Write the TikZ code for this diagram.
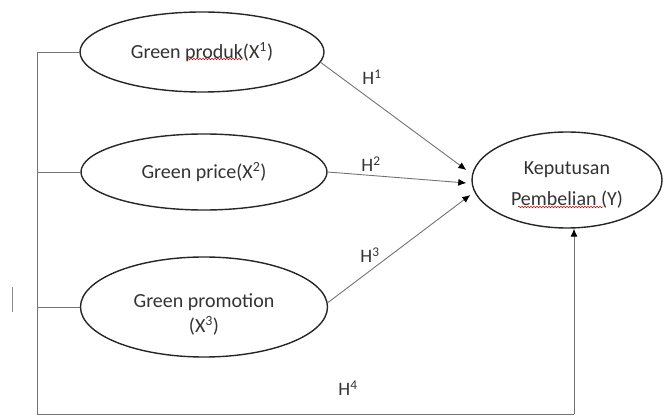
\documentclass[tikz,border=0pt]{standalone}
\usepackage{fontspec}
\setmainfont{Carlito}
\usetikzlibrary{arrows.meta,calc,decorations.pathmorphing,shapes.geometric}
\tikzset{
  var/.style={draw=black!85, line width=1.4pt, ellipse, inner sep=0pt, font=\fontsize{20}{25}\selectfont, align=center, text=black!80},
  conn/.style={draw=black!55, line width=0.9pt},
  arr/.style={conn, -{Latex[length=8pt,width=7pt,color=black]}},
  hlab/.style={font=\fontsize{19}{20}\selectfont, text=black!80, inner sep=0pt},
  spell/.style={draw=red!80!black, line width=0.5pt, decorate, decoration={snake, amplitude=0.8pt, segment length=3pt}}
}
\begin{document}
\begin{tikzpicture}[x=1pt,y=-1pt]
\useasboundingbox (0,0) rectangle (670,417);
\node[var, minimum width=244pt, minimum height=80pt] (e1) at (202,52) {Green produk(X\textsuperscript{1})};
\node[var, minimum width=246pt, minimum height=76pt] (e2) at (204,172) {Green price(X\textsuperscript{2})};
\node[var, minimum width=247pt, minimum height=100pt] (e3) at (204,307) {\rule{0pt}{29pt}Green promotion\\(X\textsuperscript{3})};
\node[var, minimum width=190pt, minimum height=96pt, font=\fontsize{20}{31}\selectfont] (y) at (567,180) {\rule{0pt}{23pt}Keputusan\\Pembelian (Y)};

\coordinate (c1) at (37,0 |- e1.west);
\coordinate (cb) at (37,414);
\coordinate (cr) at (574,414);

\draw[conn] (e1.west) -- (c1) -- (cb) -- (cr);
\draw[conn] (e2.west) -- (e2.west -| cb);
\draw[conn] (e3.west) -- (e3.west -| cb);
\draw[arr] (cr) -- (cr |- y.south);

\draw[arr] (e1.-5) -- ($(y.west)+(-5,-10)$);
\draw[arr] (e2.east) -- ($(y.west)+(-5,3)$);
\draw[arr] (e3.2) -- ($(y.west)+(-1,15)$);

\node[hlab] (h1) at (372,77) {H\textsuperscript{1}};
\node[hlab] (h2) at (371,164) {H\textsuperscript{2}};
\node[hlab] (h3) at (370,255) {H\textsuperscript{3}};
\node[hlab] (h4) at (348,388) {H\textsuperscript{4}};

\draw[black!45, line width=0.8pt] (12,287) -- (12,312);

\draw[spell] (187,59) -- (243,59);
\draw[spell] (518,207) -- (603,207);
\end{tikzpicture}
\end{document}
